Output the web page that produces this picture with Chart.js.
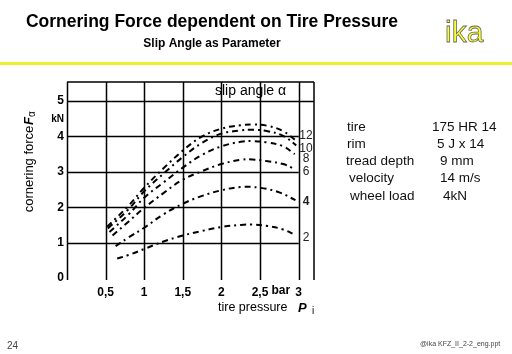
<!DOCTYPE html>
<html>
<head>
<meta charset="utf-8">
<script src="https://cdn.jsdelivr.net/npm/chart.js@4/dist/chart.umd.min.js"></script>
<style>
  html, body { margin: 0; padding: 0; background: #fff; }
  canvas { display: block; }
</style>
</head>
<body>
<canvas id="chart" width="512" height="354"></canvas>
<script>
// tire pressure (bar) and cornering force (kN) per slip angle
const p2  = [0.65, 0.8, 1.0, 1.25, 1.5, 1.75, 2.0, 2.25, 2.4, 2.6, 2.8, 2.97];
const f2  = [0.55, 0.65, 0.82, 1.03, 1.2, 1.33, 1.44, 1.5, 1.51, 1.47, 1.37, 1.2];
const p4  = [0.63, 0.8, 1.0, 1.25, 1.5, 1.75, 2.0, 2.25, 2.5, 2.75, 2.96];
const f4  = [0.9, 1.15, 1.42, 1.8, 2.1, 2.32, 2.48, 2.57, 2.55, 2.42, 2.2];
const p6  = [0.59, 0.8, 1.0, 1.25, 1.5, 1.75, 2.0, 2.25, 2.4, 2.6, 2.8, 2.93];
const f6  = [1.2, 1.6, 1.98, 2.4, 2.78, 3.02, 3.22, 3.34, 3.35, 3.3, 3.22, 3.1];
const p8  = [0.55, 0.8, 1.0, 1.25, 1.5, 1.75, 2.0, 2.25, 2.4, 2.6, 2.8, 2.95];
const f8  = [1.3, 1.8, 2.27, 2.7, 3.12, 3.48, 3.72, 3.85, 3.87, 3.83, 3.72, 3.5];
const p10 = [0.53, 0.8, 1.0, 1.25, 1.5, 1.75, 2.0, 2.25, 2.4, 2.6, 2.8, 2.97];
const f10 = [1.4, 1.95, 2.45, 2.95, 3.42, 3.82, 4.08, 4.17, 4.19, 4.15, 4.02, 3.75];
const p12 = [0.52, 0.8, 1.0, 1.25, 1.5, 1.75, 2.0, 2.25, 2.4, 2.6, 2.8, 2.97];
const f12 = [1.45, 2.05, 2.55, 3.1, 3.6, 4.0, 4.22, 4.32, 4.34, 4.3, 4.15, 3.88];

const slipAngles = ['2', '4', '6', '8', '10', '12'];
const xTicks = [0.5, 1, 1.5, 2, 2.5, 3];
const xTickLabels = ['0,5', '1', '1,5', '2', '2,5', '3'];
const yTicks = [0, 1, 2, 3, 4, 5];

const infoLabels = ['tire', 'rim', 'tread depth', 'velocity', 'wheel load'];
const infoValues = ['175 HR 14', '5 J x 14', '9 mm', '14 m/s', '4kN'];

const FONT = '"Liberation Sans", Arial, sans-serif';

function pts(xs, ys) {
    return xs.map((x, i) => ({ x: x, y: ys[i] }));
}

const series = [[p2, f2], [p4, f4], [p6, f6], [p8, f8], [p10, f10], [p12, f12]];

const datasets = series.map((s, i) => ({
    label: slipAngles[i],
    data: pts(s[0], s[1]),
    showLine: true,
    borderColor: '#000',
    borderWidth: 2,
    borderDash: [6, 4, 2, 4],
    pointRadius: 0,
    tension: 0.4,
    fill: false
}));

// where the slip angle numbers sit (y pixel) at the right end
const angleLabelY = [238, 202, 172, 159, 149, 136];

const decor = {
    id: 'decor',
    beforeDatasetsDraw(chart) {
        const ctx = chart.ctx;
        const xs = chart.scales.x, ys = chart.scales.y;
        const a = chart.chartArea;
        ctx.save();
        ctx.strokeStyle = '#000';
        ctx.lineWidth = 1.5;
        ctx.beginPath();
        // verticals
        [0].concat(xTicks).forEach(v => {
            const px = Math.round(xs.getPixelForValue(v)) + 0.5;
            ctx.moveTo(px, a.top);
            ctx.lineTo(px, a.bottom + 2);
        });
        ctx.moveTo(a.right, a.top);
        ctx.lineTo(a.right, a.bottom + 2);
        // top border
        ctx.moveTo(a.left, a.top);
        ctx.lineTo(a.right, a.top);
        // horizontals
        yTicks.slice(1).forEach(v => {
            const py = Math.round(ys.getPixelForValue(v)) + 0.5;
            const end = v === 5 ? a.right : xs.getPixelForValue(3);
            ctx.moveTo(a.left, py);
            ctx.lineTo(end, py);
        });
        ctx.stroke();
        ctx.restore();
    },
    afterDraw(chart) {
        const ctx = chart.ctx;
        const xs = chart.scales.x, ys = chart.scales.y;
        ctx.save();
        ctx.fillStyle = '#000';
        ctx.textBaseline = 'middle';

        // title
        ctx.textAlign = 'center';
        ctx.font = 'bold 17.5px ' + FONT;
        ctx.fillText('Cornering Force dependent on Tire Pressure', 212, 22);
        ctx.font = 'bold 12px ' + FONT;
        ctx.fillText('Slip Angle as Parameter', 212, 44);

        // ika logo
        ctx.textAlign = 'left';
        ctx.textBaseline = 'alphabetic';
        ctx.font = '30px ' + FONT;
        ctx.lineWidth = 0.8;
        ctx.fillStyle = '#ffff30';
        ctx.strokeStyle = '#666';
        ctx.fillText('ika', 445, 42);
        ctx.strokeText('ika', 445, 42);
        ctx.textBaseline = 'middle';

        // yellow rule
        ctx.fillStyle = '#eeee30';
        ctx.fillRect(0, 62, 512, 3);

        ctx.fillStyle = '#000';
        // slip angle caption
        ctx.font = '14px ' + FONT;
        ctx.textAlign = 'left';
        ctx.fillText('slip angle \u03b1', 215, 91);

        // kN unit
        ctx.font = 'bold 10px ' + FONT;
        ctx.textAlign = 'right';
        ctx.fillText('kN', 64, ys.getPixelForValue(4.5));

        // bar unit
        ctx.font = 'bold 12px ' + FONT;
        ctx.textAlign = 'center';
        ctx.fillText('bar', xs.getPixelForValue(2.77), 291);

        // curve labels
        ctx.fillStyle = '#222';
        slipAngles.forEach((t, i) => {
            ctx.font = (i === 1 ? 'bold ' : '') + '12px ' + FONT;
            ctx.fillText(t, 306, angleLabelY[i]);
        });

        // axis titles
        ctx.fillStyle = '#000';
        ctx.save();
        ctx.translate(29, 161);
        ctx.rotate(-Math.PI / 2);
        ctx.font = '13px ' + FONT;
        ctx.textAlign = 'center';
        ctx.fillText('cornering force', -8, 0);
        ctx.font = 'bold italic 13px ' + FONT;
        ctx.textAlign = 'left';
        ctx.fillText('F', 36, 0);
        ctx.font = '10px ' + FONT;
        ctx.fillText('\u03b1', 44, 3);
        ctx.restore();

        ctx.textAlign = 'left';
        ctx.font = '12.5px ' + FONT;
        ctx.fillText('tire pressure ', 218, 308);
        ctx.font = 'bold italic 13px ' + FONT;
        ctx.fillText('P', 298, 308);
        ctx.font = '10px ' + FONT;
        ctx.fillText('i', 312, 311);

        // info table
        ctx.font = '13.5px ' + FONT;
        ctx.fillStyle = '#111';
        const c1 = [347, 347, 346, 349, 350];
        const c2 = [432, 437, 440, 440, 443];
        infoLabels.forEach((t, i) => {
            const y = 127 + i * 17.2;
            ctx.fillText(t, c1[i], y);
            ctx.fillText(infoValues[i], c2[i], y);
        });

        // footer
        ctx.fillStyle = '#444';
        ctx.font = '10px ' + FONT;
        ctx.fillText('24', 7, 346);
        ctx.font = '7px ' + FONT;
        ctx.fillText('@ika KFZ_II_2-2_eng.ppt', 420, 344);
        ctx.restore();
    }
};

new Chart(document.getElementById('chart'), {
    type: 'scatter',
    data: { datasets: datasets },
    options: {
        responsive: false,
        animation: false,
        layout: { padding: { left: 0, right: 198, top: 82, bottom: 0 } },
        plugins: { legend: { display: false }, tooltip: { enabled: false } },
        scales: {
            x: {
                type: 'linear',
                min: 0,
                max: 3.2,
                border: { display: false },
                grid: { display: false, drawTicks: false },
                afterBuildTicks: s => { s.ticks = xTicks.map(v => ({ value: v })); },
                afterFit: s => { s.height = 76; },
                ticks: {
                    padding: 7,
                    maxRotation: 0,
                    autoSkip: false,
                    color: '#000',
                    font: { family: FONT, size: 12, weight: 'bold' },
                    callback: (v, i) => xTickLabels[i]
                }
            },
            y: {
                type: 'linear',
                min: 0,
                max: 5.54,
                border: { display: false },
                grid: { display: false, drawTicks: false },
                afterBuildTicks: s => { s.ticks = yTicks.map(v => ({ value: v })); },
                afterFit: s => { s.width = 67; },
                ticks: {
                    padding: 3,
                    color: '#000',
                    font: { family: FONT, size: 12, weight: 'bold' }
                }
            }
        }
    },
    plugins: [decor]
});
</script>
</body>
</html>
